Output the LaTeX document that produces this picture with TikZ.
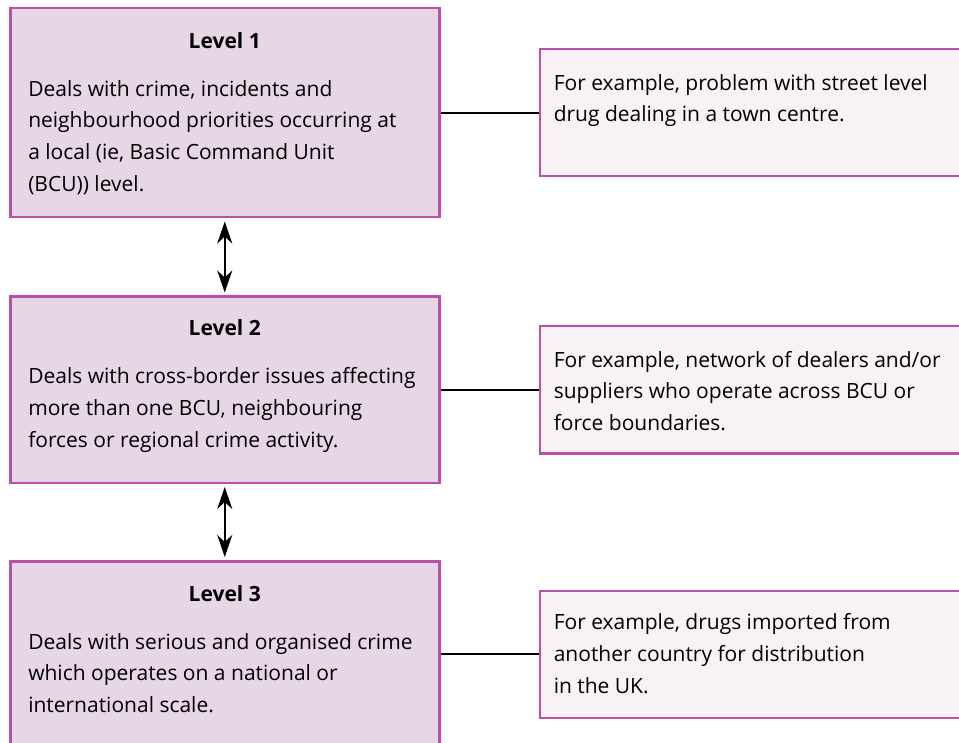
\documentclass[tikz,border=0pt]{standalone}
\usepackage{fontspec}
\setmainfont{Open Sans}
\usepackage{xcolor}
\usepackage{tikz}
\usetikzlibrary{positioning,arrows.meta}
\definecolor{levelfill}{RGB}{231,214,230}
\definecolor{examplefill}{RGB}{248,242,247}
\definecolor{levelborder}{RGB}{187,80,167}
\tikzstyle{level} = [rectangle, draw=levelborder, line width=2.5pt, fill=levelfill, inner xsep=18pt, inner ysep=0pt, minimum width=429pt, font=\fontsize{21}{31.7}\selectfont]
\tikzstyle{example} = [rectangle, draw=levelborder, line width=2.5pt, fill=examplefill, inner xsep=14pt, inner ysep=0pt, minimum width=440pt, minimum height=127pt, font=\fontsize{21}{31.7}\selectfont]
\tikzstyle{link} = [line width=2.2pt]
\tikzstyle{arrow} = [line width=2.2pt, {Stealth[length=22pt,width=15pt,inset=7pt]}-{Stealth[length=22pt,width=15pt,inset=7pt]}, shorten >=3pt, shorten <=3pt]

\begin{document}
\begin{tikzpicture}[x=1pt, y=1pt]
    \useasboundingbox (0,0) rectangle (959,-743);
    \clip (0,0) rectangle (959,-743);

    % Level 1
    \node [level, anchor=north west, minimum height=209pt] (level1) at (9,-7) {\parbox[c][209pt][t]{393pt}{{\centering\rule{0pt}{40pt}\textbf{Level 1}\par}\vspace{16.3pt}\raggedright
        Deals with crime, incidents and\\neighbourhood priorities occurring at\\a local (ie, Basic Command Unit\\(BCU)) level.}};

    % Level 2
    \node [level, below=77pt of level1, minimum height=186pt] (level2) {\parbox[c][186pt][t]{393pt}{{\centering\rule{0pt}{39pt}\textbf{Level 2}\par}\vspace{16.3pt}\raggedright
        Deals with cross-border issues affecting\\more than one BCU, neighbouring\\forces or regional crime activity.}};

    % Level 3
    \node [level, below=76pt of level2, minimum height=186pt] (level3) {\parbox[c][186pt][t]{393pt}{{\centering\rule{0pt}{40pt}\textbf{Level 3}\par}\vspace{16.3pt}\raggedright
        Deals with serious and organised crime\\which operates on a national or\\international scale.}};

    % Examples
    \node [example, right=98pt of level1] (example1) {\parbox[c][127pt][t]{412pt}{\raggedright\rule{0pt}{41pt}For example, problem with street level\\drug dealing in a town centre.}};
    \node [example, right=98pt of level2] (example2) {\parbox[c][127pt][t]{412pt}{\raggedright\rule{0pt}{41pt}For example, network of dealers and/or\\suppliers who operate across BCU or\\force boundaries.}};
    \node [example, right=98pt of level3] (example3) {\parbox[c][127pt][t]{412pt}{\raggedright\rule{0pt}{39pt}For example, drugs imported from\\another country for distribution\\in the UK.}};

    % Connections
    \draw [arrow] (level1) -- (level2);
    \draw [arrow] (level2) -- (level3);
    \draw [link] (level1) -- (example1);
    \draw [link] (level2) -- (example2);
    \draw [link] (level3) -- (example3);
\end{tikzpicture}
\end{document}
